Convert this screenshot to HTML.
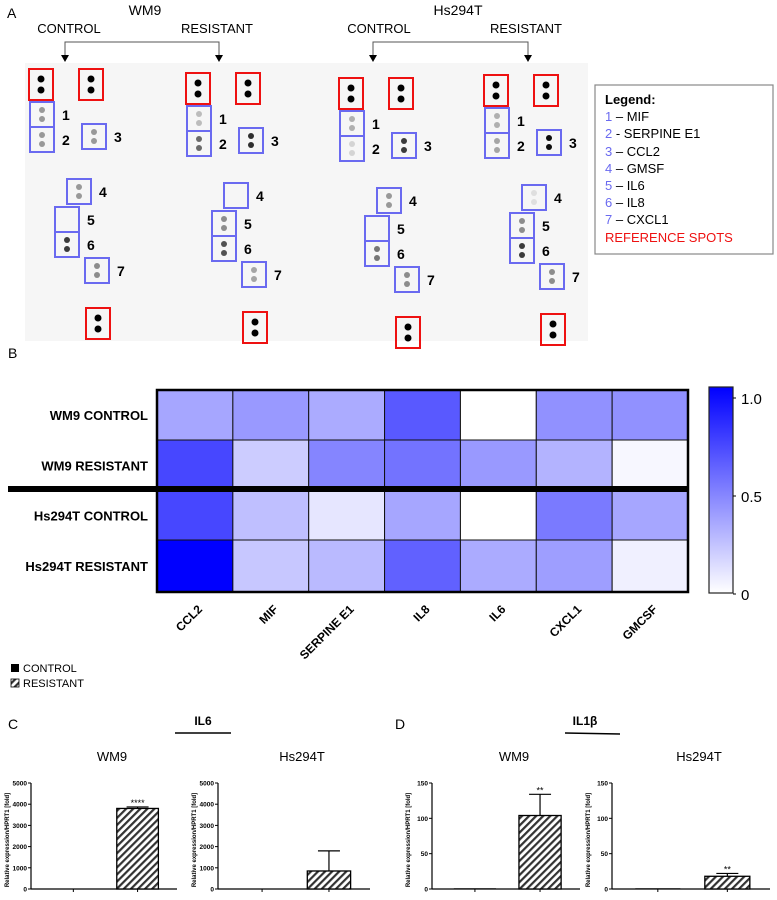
<!DOCTYPE html>
<html><head><meta charset="utf-8"><style>
body{margin:0;background:#fff;}
svg{display:block;font-family:"Liberation Sans",sans-serif;}
</style></head><body>
<svg id="fig" width="777" height="900" viewBox="0 0 777 900" xmlns="http://www.w3.org/2000/svg">
<defs>
<pattern id="hatch" patternUnits="userSpaceOnUse" width="5" height="5" patternTransform="rotate(45)">
<rect width="5" height="5" fill="#fff"/><rect width="2.2" height="5" fill="#333"/></pattern>
</defs>
<g id="panelA">
<text x="7" y="18" font-size="14">A</text>
<text x="145" y="15" font-size="14" text-anchor="middle">WM9</text>
<text x="458" y="15" font-size="14" text-anchor="middle">Hs294T</text>
<text x="69" y="33" font-size="13" text-anchor="middle">CONTROL</text>
<text x="217" y="33" font-size="13" text-anchor="middle">RESISTANT</text>
<text x="379" y="33" font-size="13" text-anchor="middle">CONTROL</text>
<text x="526" y="33" font-size="13" text-anchor="middle">RESISTANT</text>
<rect x="25" y="63" width="563" height="278" fill="#f6f6f6"/>
<g id="mem"></g>
<rect x="595" y="85" width="178" height="169" fill="#fff" stroke="#888" stroke-width="1.2"/>
<text font-size="13">
<tspan x="605" y="104" font-weight="bold">Legend:</tspan>
<tspan x="605" y="121" fill="#6a6af0">1</tspan><tspan> – MIF</tspan>
<tspan x="605" y="138" fill="#6a6af0">2</tspan><tspan> - SERPINE E1</tspan>
<tspan x="605" y="156" fill="#6a6af0">3</tspan><tspan> – CCL2</tspan>
<tspan x="605" y="173" fill="#6a6af0">4</tspan><tspan> – GMSF</tspan>
<tspan x="605" y="190" fill="#6a6af0">5</tspan><tspan> – IL6</tspan>
<tspan x="605" y="207" fill="#6a6af0">6</tspan><tspan> – IL8</tspan>
<tspan x="605" y="224" fill="#6a6af0">7</tspan><tspan> – CXCL1</tspan>
<tspan x="605" y="242" fill="#ee1111">REFERENCE SPOTS</tspan>
</text>
</g>
<g id="panelB">
<text x="8" y="358" font-size="14">B</text>
<g id="heat"></g>
</g>
<g id="panelC">
<rect x="11" y="664" width="8" height="8" fill="#000"/>
<text x="23" y="672" font-size="11">CONTROL</text>
<rect x="11" y="679" width="8" height="8" fill="url(#hatch)" stroke="#000" stroke-width="0.8"/>
<text x="23" y="687" font-size="11">RESISTANT</text>
<text x="8" y="729" font-size="14">C</text>
<text x="203" y="725" font-size="12" font-weight="bold" text-anchor="middle">IL6</text>
<line x1="175" y1="733" x2="231" y2="733" stroke="#000" stroke-width="1.5"/>
<text x="395" y="729" font-size="14">D</text>
<text x="585" y="725" font-size="12" font-weight="bold" text-anchor="middle">IL1β</text>
<line x1="565" y1="733" x2="620" y2="734" stroke="#000" stroke-width="1.5"/>
<g id="bars"></g>
</g>
</svg>
<script>
const NS="http://www.w3.org/2000/svg";
function mk(tag,attrs,parent,text){const e=document.createElementNS(NS,tag);for(const k in attrs)e.setAttribute(k,attrs[k]);if(text!==undefined)e.textContent=text;parent.appendChild(e);return e;}

/* ---------- Panel A: array spot intensities (0..1 darkness) ---------- */
const memNames=["wm9-control","wm9-resistant","hs-control","hs-resistant"];
const memX=[29,186,339,484];
const memY=[0,4,9,6];
const spot1=[0.35,0.2,0.25,0.25];
const spot2=[0.35,0.55,0.1,0.3];
const spot3=[0.35,0.8,0.75,0.95];
const spot4=[0.35,0.0,0.35,0.05];
const spot5=[0.0,0.4,0.0,0.4];
const spot6=[0.75,0.65,0.5,0.75];
const spot7=[0.4,0.3,0.4,0.4];
const boxRel=[[1,39],[1,64],[53,61],[38,116],[26,144],[26,169],[56,195]];
const mem=document.getElementById('mem');
const spots=[spot1,spot2,spot3,spot4,spot5,spot6,spot7];
memX.forEach((mx,m)=>{
  const g=mk('g',{},mem);
  
  
  const oy=69+memY[m];
  const refs=[[0,0],[50,0],[57,239]];
  refs.forEach(([rx,ry])=>{
    const x=mx+rx,y=oy+ry;
    const r=mk('rect',{x:x,y:y,width:24,height:31,fill:'none',stroke:'#ee1111','stroke-width':2},g);
    
    
    mk('circle',{cx:x+12,cy:y+10,r:3.5,fill:'#000'},g);
    mk('circle',{cx:x+12,cy:y+21,r:3.5,fill:'#000'},g);
  });
  boxRel.forEach(([bx,by],i)=>{
    const x=mx+bx,y=oy+by-6;
    const v=spots[i][m];
    const r=mk('rect',{x:x,y:y,width:24,height:25,fill:'none',stroke:'#6a6af0','stroke-width':2},g);
    
    
    if(v>0){const c=Math.round(235-v*235);const col=`rgb(${c},${c},${c})`;
      mk('circle',{cx:x+12,cy:y+8,r:3,fill:col},g);mk('circle',{cx:x+12,cy:y+17,r:3,fill:col},g);}
    const t=mk('text',{x:x+32,y:y+18,'font-size':14,'font-weight':'bold'},g,String(i+1));
    
    
  });
});
[[65,219],[373,528]].forEach(([a,b])=>{
  mk('path',{d:`M${a} 57 V42 H${b} V57`,fill:'none',stroke:'#555','stroke-width':1},mem);
  mk('path',{d:`M${a-4} 55 L${a+4} 55 L${a} 62Z M${b-4} 55 L${b+4} 55 L${b} 62Z`,fill:'#000'},mem);
});

/* ---------- Panel B heatmap ---------- */
const hmCols=["CCL2","MIF","SERPINE E1","IL8","IL6","CXCL1","GMCSF"];
const hmRows=["WM9 CONTROL","WM9 RESISTANT","Hs294T CONTROL","Hs294T RESISTANT"];
const hmRow0=[0.35,0.40,0.33,0.65,0.0,0.43,0.43];
const hmRow1=[0.72,0.20,0.48,0.55,0.40,0.30,0.03];
const hmRow2=[0.72,0.25,0.10,0.35,0.0,0.52,0.35];
const hmRow3=[1.0,0.22,0.27,0.62,0.33,0.38,0.06];
const cbTicks=["0","0.5","1.0"];
const hmVals=[hmRow0,hmRow1,hmRow2,hmRow3];
const heat=document.getElementById('heat');
const hx0=157,hx1=688,rowTops=[390,440,491,540,592];
const cw=(hx1-hx0)/hmCols.length;
function col(v){const c=Math.round(255*(1-v));return `rgb(${c},${c},255)`;}
hmVals.forEach((row,ri)=>{
  row.forEach((v,ci)=>{
    const r=mk('rect',{x:hx0+ci*cw,y:rowTops[ri],width:cw,height:rowTops[ri+1]-rowTops[ri],fill:col(v),stroke:'#111','stroke-width':1},heat);
    
    
  });
  const t=mk('text',{x:148,y:(rowTops[ri]+rowTops[ri+1])/2+5,'font-size':13,'font-weight':'bold','text-anchor':'end'},heat,hmRows[ri]);
  
  
});
mk('rect',{x:hx0,y:390,width:hx1-hx0,height:202,fill:'none',stroke:'#000','stroke-width':2.5},heat);
mk('rect',{x:8,y:486,width:681,height:6,fill:'#000'},heat);
hmCols.forEach((c,i)=>{
  const cx=hx0+(i+0.5)*cw+8, cy=610;
  const t=mk('text',{x:cx,y:cy,'font-size':12,'font-weight':'bold','text-anchor':'end',transform:`rotate(-45 ${cx} ${cy})`},heat,c);
  
  
});
const lg=mk('linearGradient',{id:'cbg',x1:0,y1:1,x2:0,y2:0},heat);
mk('stop',{offset:0,'stop-color':'#fff'},lg);mk('stop',{offset:1,'stop-color':'#0000ff'},lg);
const cb=mk('rect',{x:709,y:387,width:24,height:206,fill:'url(#cbg)',stroke:'#222','stroke-width':1.2},heat);


const cbY=v=>594-v*196;
cbTicks.forEach(t=>{const y=cbY(parseFloat(t));
  mk('line',{x1:733,x2:736,y1:y,y2:y,stroke:'#000'},heat);
  const tx=mk('text',{x:741,y:y+6,'font-size':15},heat,t);
  
  });

/* ---------- Panels C/D bar charts ---------- */
const chartTitles=["WM9","Hs294T","WM9","Hs294T"];
const chartMax=[5000,5000,150,150];
const chartTicks=[[0,1000,2000,3000,4000,5000],[0,1000,2000,3000,4000,5000],[0,50,100,150],[0,50,100,150]];
const controlVals=[0,0,1,1];
const resistantVals=[3800,850,104,18];
const resistantErr=[3870,1800,134,22];
const sigLabels=["****","","**","**"];
const axX=[31,218,432,612], axEnd=[177,370,580,770];
const bars=document.getElementById('bars');
const yTop=783,yBot=889;
chartTitles.forEach((title,k)=>{
  const g=mk('g',{},bars);
  
  
  const y=v=>yBot-(v/chartMax[k])*(yBot-yTop);
  const x0=axX[k],x1=axEnd[k];
  const t=mk('text',{x:(x0+x1)/2+8,y:761,'font-size':13,'text-anchor':'middle'},g,title);
  
  
  mk('line',{x1:x0,x2:x0,y1:yTop,y2:yBot,stroke:'#000','stroke-width':1.2},g);
  mk('line',{x1:x0,x2:x1,y1:yBot,y2:yBot,stroke:'#000','stroke-width':1.2},g);
  chartTicks[k].forEach(v=>{mk('line',{x1:x0-3,x2:x0,y1:y(v),y2:y(v),stroke:'#000'},g);
    const tt=mk('text',{x:x0-4,y:y(v)+2.5,'font-size':6.5,'font-weight':'bold','text-anchor':'end'},g,String(v));
    
    });
  const yl=mk('text',{x:0,y:0,'font-size':6,'font-weight':'bold','text-anchor':'middle',transform:`translate(${x0-22} ${(yTop+yBot)/2+4}) rotate(-90)`},g,'Relative expression/HPRT1 [fold]');
  
  
  const w=x1-x0, bw=w*0.285;
  const c1=x0+w*0.29, c2=x0+w*0.73;
  mk('line',{x1:c1,x2:c1,y1:yBot,y2:yBot+3,stroke:'#000'},g);
  mk('line',{x1:c2,x2:c2,y1:yBot,y2:yBot+3,stroke:'#000'},g);
  const bc=mk('rect',{x:c1-bw/2,y:y(controlVals[k]),width:bw,height:yBot-y(controlVals[k]),fill:'#000'},g);
  
  
  mk('line',{x1:c2,x2:c2,y1:y(resistantVals[k]),y2:y(resistantErr[k]),stroke:'#000','stroke-width':1.2},g);
  mk('line',{x1:c2-11,x2:c2+11,y1:y(resistantErr[k]),y2:y(resistantErr[k]),stroke:'#000','stroke-width':1.2},g);
  const br=mk('rect',{x:c2-bw/2,y:y(resistantVals[k]),width:bw,height:yBot-y(resistantVals[k]),fill:'url(#hatch)',stroke:'#000','stroke-width':1.3},g);
  
  
  if(sigLabels[k]){const s=mk('text',{x:c2,y:y(resistantErr[k])-1,'font-size':9,'text-anchor':'middle'},g,sigLabels[k]);
    
    }
});
</script>
</body></html>
